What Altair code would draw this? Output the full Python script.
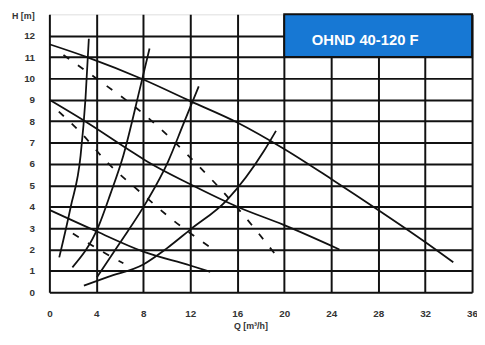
import altair as alt
import pandas as pd

# ---- pump curves (solid) ----
q_max = [0, 3.2, 8, 12, 16, 20, 24, 28, 32, 34.4]
h_max = [11.6, 11.0, 9.95, 8.94, 7.94, 6.7, 5.3, 3.85, 2.35, 1.4]
q_mid = [0, 3.2, 6.85, 8.4, 12, 16, 19.9, 24.7]
h_mid = [9.0, 7.94, 6.63, 6.09, 5.05, 4.0, 3.16, 2.0]
q_min = [0, 4, 8, 12, 13.7]
h_min = [3.85, 2.85, 1.9, 1.25, 0.95]

# ---- dashed curves ----
q_d1 = [1.2, 4, 8, 12, 16, 19.7]
h_d1 = [11.1, 10.0, 8.35, 6.3, 3.95, 1.45]
q_d2 = [0.8, 2.66, 4.9, 7.7, 10.3, 13.7]
h_d2 = [8.45, 7.47, 6.09, 4.7, 3.47, 2.1]
q_d3 = [2.0, 4.75, 6.3]
h_d3 = [2.75, 1.82, 1.35]

# ---- rising curves ----
q_r1 = [0.84, 1.82, 2.66, 3.08, 3.36]
h_r1 = [1.63, 4.0, 6.4, 9.1, 11.86]
q_r2 = [1.96, 4.2, 5.2, 6.3, 7.7, 8.53]
h_r2 = [1.16, 3.1, 4.6, 6.4, 9.5, 11.4]
q_r3 = [4.05, 6.0, 8.3, 10.1, 11.4, 12.72]
h_r3 = [0.7, 2.3, 4.25, 6.1, 7.85, 9.63]
q_r4 = [2.94, 5.0, 8.0, 10.0, 12.0, 15.1, 18.3, 19.3]
h_r4 = [0.31, 0.72, 1.3, 2.05, 2.93, 4.3, 6.63, 7.55]

# ---- label box ----
box_q = [20, 36]
box_h = [11, 13]
label_q = [22.35]
label_h = [11.8]
label_text = ["OHND 40-120 F"]

x_ticks = [0, 4, 8, 12, 16, 20, 24, 28, 32, 36]
y_ticks = [0, 1, 2, 3, 4, 5, 6, 7, 8, 9, 10, 11, 12]

solid = {"max": (q_max, h_max), "mid": (q_mid, h_mid), "min": (q_min, h_min),
         "r1": (q_r1, h_r1), "r2": (q_r2, h_r2), "r3": (q_r3, h_r3), "r4": (q_r4, h_r4)}
dashed = {"d1": (q_d1, h_d1), "d2": (q_d2, h_d2), "d3": (q_d3, h_d3)}


def frame(d):
    rows = []
    for name, (qs, hs) in d.items():
        for i, (q, h) in enumerate(zip(qs, hs)):
            rows.append({"curve": name, "q": q, "h": h, "i": i})
    return pd.DataFrame(rows)


df_solid = frame(solid)
df_dash = frame(dashed)
df_box = pd.DataFrame({"q": [box_q[0]], "q2": [box_q[1]], "h": [box_h[0]], "h2": [box_h[1]]})
df_lab = pd.DataFrame({"q": label_q, "h": label_h, "t": label_text})

FONT = "Liberation Sans Narrow, Liberation Sans, Arial"

xs = alt.Scale(domain=[0, 36], nice=False, zero=False)
ys = alt.Scale(domain=[0, 13], nice=False, zero=False)

x_axis = alt.Axis(values=x_ticks, title="Q [m³/h]", grid=True, gridColor="#111", gridWidth=2,
                  gridOpacity=1, domain=False, ticks=False, labelFont=FONT, labelFontSize=10,
                  labelFontWeight="bold", labelColor="#333", labelPadding=17, labelFlush=False,
                  labelOverlap=False,
                  titleFont=FONT, titleFontSize=9, titleFontWeight="bold", titleColor="#333",
                  titleX=204, titleY=34, titleAlign="center", titleBaseline="middle")
y_axis = alt.Axis(values=y_ticks, title="H [m]", grid=True, gridColor="#111", gridWidth=2,
                  gridOpacity=1, domain=False, ticks=False, labelFont=FONT, labelFontSize=10,
                  labelFontWeight="bold", labelColor="#333", labelPadding=15, labelOverlap=False,
                  titleFont=FONT, titleFontSize=9, titleFontWeight="bold", titleColor="#333",
                  titleAngle=0, titleX=-27, titleY=1, titleAlign="center", titleBaseline="middle")

X = alt.X("q:Q", scale=xs, axis=x_axis)
Y = alt.Y("h:Q", scale=ys, axis=y_axis)

solid_layer = alt.Chart(df_solid).mark_line(color="#111", strokeWidth=1.8, interpolate="monotone").encode(
    x=X, y=Y, detail="curve:N", order="i:Q",
)
dash_layer = alt.Chart(df_dash).mark_line(color="#111", strokeWidth=1.8, strokeDash=[7, 11],
                                          interpolate="monotone").encode(
    x=X, y=Y, detail="curve:N", order="i:Q",
)
box_layer = alt.Chart(df_box).mark_rect(color="#1778d4", stroke="#111", strokeWidth=2).encode(
    x=X, x2="q2", y=Y, y2="h2"
)
text_layer = alt.Chart(df_lab).mark_text(color="white", font=FONT, fontSize=15, fontWeight="bold",
                                         align="left", baseline="middle").encode(
    x=X, y=Y, text="t:N"
)

chart = alt.layer(solid_layer, dash_layer, box_layer, text_layer).properties(
    width=429, height=282,
    autosize=alt.AutoSizeParams(type="none"),
    padding={"left": 42, "top": 4, "right": 5, "bottom": 40},
).configure_view(stroke="#111", strokeWidth=2).configure(background="white")

chart.save("out.html", embed_options={"renderer": "svg", "actions": False})
